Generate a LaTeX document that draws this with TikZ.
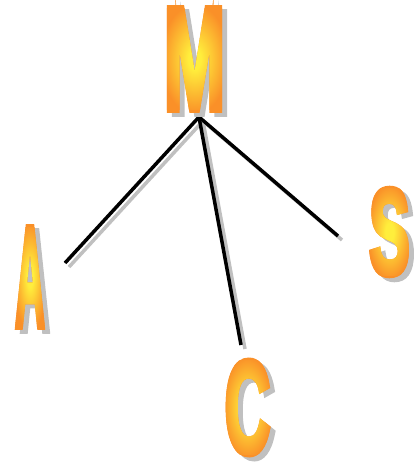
\documentclass[tikz,border=0pt]{standalone}
\usepackage{fontspec}
\newfontfamily\artfont[FakeBold=4.5]{Liberation Sans Bold}
\usetikzlibrary{fadings}

\definecolor{artorange}{RGB}{250,144,40}
\definecolor{artyellow}{RGB}{255,238,60}
\definecolor{shadowgray}{RGB}{192,192,192}

\pgfdeclareradialshading{artglow}{\pgfpoint{0bp}{0bp}}{color(0bp)=(artyellow); color(5bp)=(artyellow); color(27bp)=(artorange); color(50bp)=(artorange)}

\newcommand{\artletter}[3]{\resizebox*{#2pt}{#3pt}{\normalfont\artfont #1}}
\newcommand{\artfade}[3]{\pgfdeclarefading{fade#1}{\pgfinterruptpicture\color{pgftransparent!0}\artletter{#1}{#2}{#3}\endpgfinterruptpicture}}

\begin{document}
\begin{tikzpicture}[x=1pt,y=-1pt,
    letter/.style={inner sep=0pt,text=artorange},
    letter shadow/.style={inner sep=0pt,text=shadowgray,transform canvas={shift={(5,4)}}},
    glow/.style={shading=artglow,fit fading=false,
      path fading=fade#1,fading transform={shift={(#1.center)}}},
    wire/.style={line width=3.5pt,black},
    wire shadow/.style={line width=3.5pt,shadowgray,transform canvas={shift={(4,4)}}}]
  \useasboundingbox (0,0) rectangle (416,464);
  \artfade{M}{62}{101}
  \artfade{A}{30}{99}
  \artfade{C}{46}{94}
  \artfade{S}{41}{87}

  \coordinate (apex) at (199,117);
  \coordinate (endA) at (65,263);
  \coordinate (endC) at (241,345);
  \coordinate (endS) at (338,236);

  \foreach \e in {endA,endC,endS}
    \draw[wire shadow] (apex) -- (\e);
  \foreach \e in {endA,endC,endS}
    \draw[wire] (apex) -- (\e);

  \node[letter shadow] (Mshadow) at (194.5,59) {\artletter{M}{62}{101}};
  \node[letter] (M) at (194.5,59) {\artletter{M}{62}{101}};
  \shade[glow=M] (M.south west) rectangle (M.north east);

  \node[letter shadow] (Ashadow) at (30,277) {\artletter{A}{30}{99}};
  \node[letter] (A) at (30,277) {\artletter{A}{30}{99}};
  \shade[glow=A] (A.south west) rectangle (A.north east);

  \node[letter shadow] (Cshadow) at (247.5,407.5) {\artletter{C}{46}{94}};
  \node[letter] (C) at (247.5,407.5) {\artletter{C}{46}{94}};
  \shade[glow=C] (C.south west) rectangle (C.north east);

  \node[letter shadow] (Sshadow) at (389.5,232) {\artletter{S}{41}{87}};
  \node[letter] (S) at (389.5,232) {\artletter{S}{41}{87}};
  \shade[glow=S] (S.south west) rectangle (S.north east);
\end{tikzpicture}
\end{document}
